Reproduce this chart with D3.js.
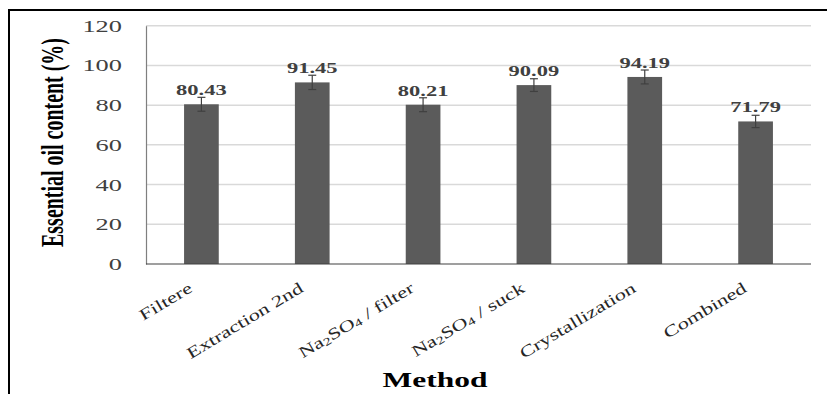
<!DOCTYPE html>
<html>
<head>
<meta charset="utf-8">
<script src="https://cdn.jsdelivr.net/npm/d3@7"></script>
<style>
  body { margin: 0; background: #fff; }
  svg text { font-family: "Liberation Serif", "Times New Roman", serif; }
</style>
</head>
<body>
<div id="chart"></div>
<script>

// values
var methods = ["Filtere", "Extraction 2nd", "Na2SO4 / filter", "Na2SO4 / suck", "Crystallization", "Combined"]
var content = [80.43, 91.45, 80.21, 90.09, 94.19, 71.79]
var errors = [3.5, 3.6, 3.5, 3.2, 3.5, 3.1]
var yTicks = [0, 20, 40, 60, 80, 100, 120]

var width = 827, height = 394
var margin = {top: 25.7, right: 16, bottom: 130, left: 146}
var stretch = 1.65 // the picture is stretched sideways

var svg = d3.select("#chart").append("svg")
    .attr("width", width)
    .attr("height", height)

// outer frame, only the top and left edges are in view
svg.append("path")
    .attr("d", "M9," + height + "V10H" + width)
    .attr("fill", "none")
    .attr("stroke", "#000")
    .attr("stroke-width", 2)

var x = d3.scaleBand()
    .domain(methods)
    .range([margin.left, width - margin.right])
    .paddingInner(0.687)
    .paddingOuter(0.3435)

var y = d3.scaleLinear()
    .domain([0, 120])
    .range([264, margin.top])

// gridlines
svg.append("g")
    .selectAll("line")
    .data(yTicks.filter(d => d > 0))
    .join("line")
    .attr("x1", margin.left)
    .attr("x2", width - margin.right)
    .attr("y1", d => y(d))
    .attr("y2", d => y(d))
    .attr("stroke", "#d9d9d9")
    .attr("stroke-width", 1.5)

// y axis
var yAxis = svg.append("g")
    .attr("transform", "translate(" + margin.left + ",0)")
    .call(d3.axisLeft(y).tickValues(yTicks).tickSize(0).tickPadding(0))

yAxis.select(".domain").attr("stroke", "#7f7f7f").attr("stroke-width", 1.2)

yAxis.selectAll("text")
    .attr("x", 0)
    .attr("dy", "0.34em")
    .attr("transform", "translate(-24,0) scale(" + stretch + ",1)")
    .style("font-size", "16px")
    .attr("fill", "#404040")

// bars
svg.append("g")
    .selectAll("rect")
    .data(methods)
    .join("rect")
    .attr("x", d => x(d))
    .attr("width", x.bandwidth())
    .attr("y", (d, i) => y(content[i]))
    .attr("height", (d, i) => y(0) - y(content[i]))
    .attr("fill", "#5b5b5b")

// error bars
var err = svg.append("g")
    .attr("stroke", "#404040")
    .attr("stroke-width", 1.2)

methods.forEach(function(m, i) {

    var cx = x(m) + x.bandwidth() / 2

    err.append("line")
        .attr("x1", cx).attr("x2", cx)
        .attr("y1", y(content[i] + errors[i]))
        .attr("y2", y(content[i] - errors[i]))

    err.append("line")
        .attr("x1", cx - 4).attr("x2", cx + 4)
        .attr("y1", y(content[i] + errors[i]))
        .attr("y2", y(content[i] + errors[i]))

    err.append("line")
        .attr("x1", cx - 4).attr("x2", cx + 4)
        .attr("y1", y(content[i] - errors[i]))
        .attr("y2", y(content[i] - errors[i]))

})

// data labels
svg.append("g")
    .selectAll("text")
    .data(methods)
    .join("text")
    .attr("transform", (d, i) => "translate(" + (x(d) + x.bandwidth() / 2) + "," + (y(content[i]) - 9) + ") scale(1.5,1)")
    .attr("text-anchor", "middle")
    .style("font-size", "15px")
    .style("font-weight", "bold")
    .attr("fill", "#404040")
    .text((d, i) => d3.format(".2f")(content[i]))

// baseline
svg.append("line")
    .attr("x1", margin.left)
    .attr("x2", width - margin.right)
    .attr("y1", y(0))
    .attr("y2", y(0))
    .attr("stroke", "#404040")
    .attr("stroke-width", 1.2)

// category labels, subscripts for Na2SO4
var cat = svg.append("g")
    .selectAll("text")
    .data(methods)
    .join("text")
    .attr("transform", d => "translate(" + (x(d) + x.bandwidth() / 2 - 8) + ",291) rotate(-31) scale(1.4,1)")
    .attr("text-anchor", "end")
    .style("font-size", "16px")
    .attr("fill", "#262626")

cat.each(function(d) {

    var t = d3.select(this)

    var parts = d.split(/(\d)/)

    parts.forEach(function(p) {

        if (p === "") return

        if (/^\d$/.test(p) && d.indexOf("Na") === 0) {
            t.append("tspan").attr("baseline-shift", "-18%").style("font-size", "11px").text(p)
        } else {
            t.append("tspan").text(p)
        }

    })

})

// axis titles
svg.append("text")
    .attr("transform", "translate(435,387) scale(1.5,1)")
    .attr("text-anchor", "middle")
    .style("font-size", "21px")
    .style("font-weight", "bold")
    .attr("fill", "#000")
    .text("Method")

var yTitle = svg.append("text")
    .attr("text-anchor", "middle")
    .style("font-size", "32px")
    .style("font-weight", "bold")
    .attr("fill", "#000")
    .text("Essential oil content (%)")

var len = yTitle.node().getComputedTextLength()

yTitle.attr("transform", "translate(63,142.5) rotate(-90) scale(" + (209 / len) + ",1)")

</script>
</body>
</html>
